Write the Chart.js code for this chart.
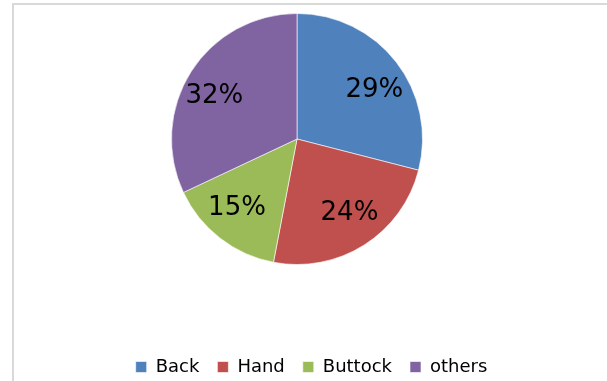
<!DOCTYPE html>
<html>
<head>
<meta charset="utf-8">
<script src="https://cdn.jsdelivr.net/npm/chart.js@4"></script>
<style>
  html, body { margin: 0; padding: 0; background: #fff; }
  #wrap { position: relative; width: 607px; height: 381px; }
</style>
</head>
<body>
<div id="wrap"><canvas id="grafico" width="607" height="381"></canvas></div>
<script>
// categorías y porcentajes
const categorias = ['Back', 'Hand', 'Buttock', 'others'];
const valores = [29, 24, 15, 32];
const colores = ['#4F81BD', '#C0504D', '#9BBB59', '#8064A2'];

// marco gris (izquierda y arriba)
const marco = {
  id: 'marco',
  beforeDraw(chart) {
    const ctx = chart.ctx;
    ctx.save();
    ctx.strokeStyle = '#d9d9d9';
    ctx.lineWidth = 2;
    ctx.beginPath();
    ctx.moveTo(13, 381);
    ctx.lineTo(13, 4);
    ctx.lineTo(607, 4);
    ctx.stroke();
    ctx.restore();
  }
};

// área del gráfico fija: torta centrada en (297, 139)
const area = {
  id: 'area',
  afterLayout(chart) {
    const a = chart.chartArea;
    a.left = 171; a.right = 423;
    a.top = 13; a.bottom = 265;
    a.width = a.right - a.left;
    a.height = a.bottom - a.top;
  }
};

// porcentajes dentro de cada porción (sobre una elipse, el texto es más ancho que alto)
const etiquetas = {
  id: 'etiquetas',
  afterDatasetsDraw(chart) {
    const ctx = chart.ctx;
    const meta = chart.getDatasetMeta(0);
    const size = 26;
    ctx.save();
    ctx.font = size + 'px "DejaVu Sans"';
    ctx.fillStyle = '#000';
    ctx.textAlign = 'center';
    ctx.textBaseline = 'alphabetic';
    meta.data.forEach((arc, i) => {
      const p = arc.getProps(['x', 'y', 'startAngle', 'endAngle', 'outerRadius'], true);
      const mid = (p.startAngle + p.endAngle) / 2;
      const x = p.x + Math.cos(mid) * p.outerRadius * 0.78;
      const y = p.y + Math.sin(mid) * p.outerRadius * 0.675;
      ctx.fillText(valores[i] + '%', x, y + size * 0.365);
    });
    ctx.restore();
  }
};

const grafico = new Chart(document.getElementById('grafico'), {
  type: 'pie',
  data: {
    labels: categorias,
    datasets: [{
      data: valores,
      backgroundColor: colores,
      borderColor: 'rgba(255,255,255,0.6)',
      borderWidth: 1
    }]
  },
  options: {
    responsive: false,
    animation: false,
    layout: { padding: { top: 0, left: 16, right: 0, bottom: -5 } },
    plugins: {
      tooltip: { enabled: false },
      legend: {
        position: 'bottom',
        labels: {
          boxWidth: 11,
          boxHeight: 11,
          padding: 18,
          color: '#000',
          font: { family: 'DejaVu Sans', size: 18 }
        }
      }
    }
  },
  plugins: [marco, area, etiquetas]
});
</script>
</body>
</html>
